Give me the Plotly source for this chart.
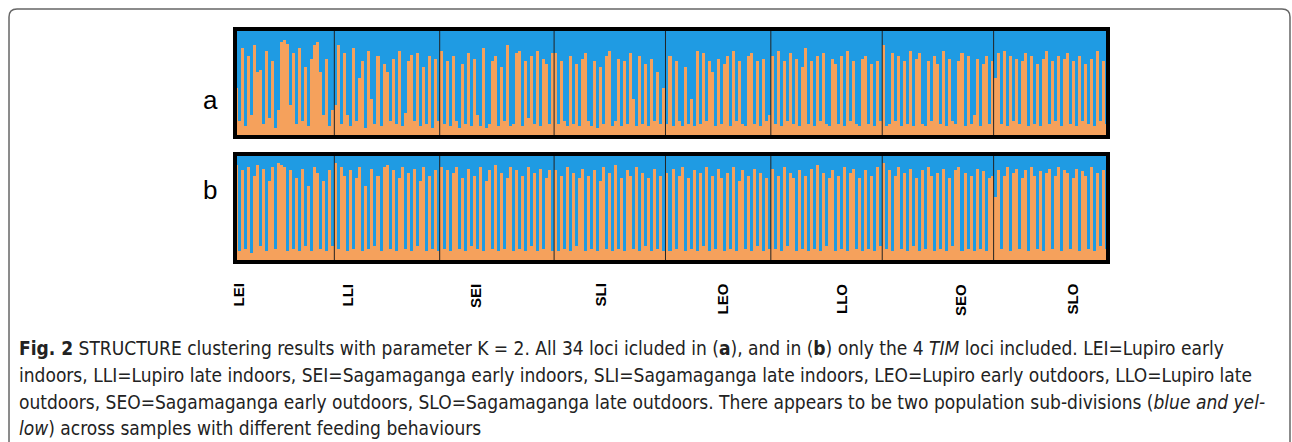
import plotly.graph_objects as go

W, H = 1292, 442

populations = ["LEI", "LLI", "SEI", "SLI", "LEO", "LLO", "SEO", "SLO"]

# Orange-cluster membership (q) per individual, panel a (all 34 loci)
a_LEI = [0.45,0.15,0.82,0.10,0.75,0.20,0.85,0.60,0.62,0.12,0.80,0.18,0.70,0.08,0.25,0.88,0.90,0.86,0.30,0.78,0.12,0.82,0.15,0.65,0.10,0.72,0.85,0.88,0.60,0.20,0.72,0.10,0.25]
a_LLI = [0.30,0.85,0.12,0.78,0.20,0.10,0.82,0.15,0.55,0.70,0.08,0.80,0.35,0.12,0.75,0.10,0.68,0.60,0.15,0.72,0.12,0.80,0.10,0.22,0.70,0.76,0.15,0.78,0.10,0.65,0.12,0.75,0.08,0.72,0.15]
a_SEI = [0.80,0.12,0.70,0.10,0.75,0.15,0.08,0.68,0.12,0.78,0.10,0.72,0.20,0.10,0.82,0.08,0.12,0.70,0.75,0.10,0.65,0.15,0.85,0.10,0.12,0.78,0.80,0.10,0.70,0.18,0.75,0.12,0.80,0.10,0.72,0.68,0.12,0.78]
a_SLI = [0.78,0.12,0.70,0.15,0.10,0.75,0.12,0.68,0.10,0.72,0.78,0.15,0.10,0.70,0.08,0.65,0.12,0.75,0.80,0.10,0.15,0.72,0.10,0.70,0.12,0.78,0.35,0.10,0.75,0.12,0.68,0.10,0.72,0.15,0.60,0.12,0.45]
a_LEO = [0.12,0.75,0.10,0.70,0.15,0.10,0.65,0.12,0.35,0.10,0.80,0.12,0.78,0.15,0.70,0.60,0.10,0.72,0.12,0.68,0.75,0.10,0.80,0.15,0.70,0.12,0.10,0.75,0.78,0.12,0.70,0.10,0.72,0.15,0.20]
a_LLO = [0.75,0.12,0.80,0.10,0.70,0.15,0.78,0.12,0.72,0.10,0.65,0.82,0.12,0.70,0.10,0.75,0.15,0.78,0.12,0.10,0.72,0.68,0.12,0.75,0.10,0.80,0.15,0.70,0.12,0.10,0.72,0.75,0.12,0.68,0.10,0.70,0.15]
a_SEO = [0.85,0.10,0.12,0.78,0.15,0.75,0.10,0.70,0.12,0.80,0.10,0.72,0.78,0.12,0.10,0.70,0.15,0.75,0.68,0.12,0.80,0.10,0.72,0.15,0.12,0.70,0.78,0.10,0.75,0.12,0.20,0.72,0.10,0.68,0.75,0.12,0.70]
a_SLO = [0.55,0.78,0.12,0.80,0.10,0.75,0.15,0.72,0.12,0.70,0.78,0.10,0.75,0.12,0.68,0.10,0.72,0.80,0.12,0.70,0.15,0.75,0.10,0.72,0.78,0.12,0.70,0.10,0.75,0.15,0.68,0.12,0.72,0.10,0.80,0.15,0.70,0.12]

# panel b (4 TIM loci)
b_LEI = [0.90,0.10,0.85,0.12,0.88,0.08,0.80,0.90,0.15,0.86,0.10,0.75,0.88,0.12,0.92,0.90,0.88,0.10,0.85,0.12,0.78,0.10,0.86,0.15,0.70,0.10,0.88,0.82,0.12,0.75,0.10,0.85,0.15]
b_LLI = [0.92,0.12,0.88,0.80,0.10,0.85,0.12,0.78,0.88,0.10,0.70,0.12,0.86,0.15,0.80,0.10,0.88,0.90,0.12,0.85,0.10,0.78,0.88,0.12,0.82,0.10,0.86,0.15,0.75,0.88,0.10,0.80,0.12,0.85,0.10]
b_SEI = [0.88,0.12,0.85,0.10,0.82,0.88,0.12,0.78,0.10,0.86,0.15,0.80,0.12,0.88,0.10,0.75,0.85,0.12,0.90,0.10,0.82,0.12,0.78,0.88,0.10,0.85,0.12,0.80,0.10,0.88,0.15,0.82,0.10,0.86,0.12,0.78,0.85,0.10]
b_SLI = [0.85,0.10,0.80,0.12,0.88,0.10,0.82,0.15,0.78,0.86,0.10,0.80,0.12,0.85,0.10,0.75,0.88,0.12,0.82,0.10,0.90,0.12,0.78,0.10,0.85,0.80,0.12,0.88,0.10,0.82,0.15,0.78,0.10,0.86,0.12,0.80,0.10]
b_LEO = [0.82,0.10,0.86,0.12,0.80,0.88,0.10,0.78,0.12,0.85,0.10,0.82,0.15,0.88,0.10,0.80,0.12,0.86,0.78,0.10,0.82,0.12,0.88,0.10,0.75,0.85,0.12,0.80,0.10,0.86,0.15,0.82,0.10,0.78,0.12]
b_LLO = [0.86,0.12,0.80,0.10,0.88,0.15,0.82,0.78,0.10,0.85,0.12,0.80,0.10,0.86,0.12,0.90,0.10,0.82,0.15,0.78,0.85,0.10,0.80,0.12,0.88,0.10,0.82,0.86,0.12,0.78,0.10,0.85,0.12,0.80,0.10,0.88,0.15]
b_SEO = [0.92,0.12,0.85,0.10,0.80,0.88,0.12,0.82,0.10,0.86,0.15,0.78,0.10,0.85,0.12,0.88,0.80,0.10,0.82,0.12,0.86,0.10,0.78,0.15,0.85,0.88,0.10,0.82,0.12,0.80,0.10,0.86,0.12,0.84,0.10,0.78,0.80]
b_SLO = [0.60,0.85,0.12,0.80,0.88,0.10,0.82,0.86,0.12,0.78,0.85,0.10,0.88,0.80,0.12,0.84,0.10,0.82,0.86,0.12,0.80,0.88,0.10,0.85,0.82,0.12,0.78,0.86,0.10,0.84,0.80,0.12,0.88,0.10,0.82,0.15,0.85,0.12]

panel_a = [a_LEI, a_LLI, a_SEI, a_SLI, a_LEO, a_LLO, a_SEO, a_SLO]
panel_b = [b_LEI, b_LLI, b_SEI, b_SLI, b_LEO, b_LLO, b_SEO, b_SLO]
panel_names = ["a", "b"]

ORANGE = "#F5A15C"
BLUE = "#1F9BE3"

def px(x):
    return x / W

def py(y):
    return 1 - y / H

fig = go.Figure()

x_dom = [px(235), px(1108)]
y_doms = [[py(137), py(29)], [py(262), py(154)]]

shapes = []
annotations = []

for i, panel in enumerate([panel_a, panel_b]):
    q = [v for pop in panel for v in pop]
    idx = list(range(len(q)))
    xa = "x" if i == 0 else "x2"
    ya = "y" if i == 0 else "y2"
    fig.add_trace(go.Bar(x=idx, y=q, marker=dict(color=ORANGE, line=dict(width=0)),
                         xaxis=xa, yaxis=ya, width=1.0, showlegend=False, hoverinfo="skip"))
    fig.add_trace(go.Bar(x=idx, y=[1 - v for v in q], marker=dict(color=BLUE, line=dict(width=0)),
                         xaxis=xa, yaxis=ya, width=1.0, showlegend=False, hoverinfo="skip"))
    n = len(q)
    axkey = "xaxis" if i == 0 else "xaxis2"
    aykey = "yaxis" if i == 0 else "yaxis2"
    fig.layout[axkey] = dict(domain=x_dom, range=[-0.5, n - 0.5], visible=False, fixedrange=True,
                             anchor=ya)
    fig.layout[aykey] = dict(domain=y_doms[i], range=[0, 1], visible=False, fixedrange=True,
                             anchor=xa)
    cum = 0
    for pop in panel[:-1]:
        cum += len(pop)
        shapes.append(dict(type="line", xref=xa, yref=ya, x0=cum - 0.5, x1=cum - 0.5, y0=0, y1=1,
                           line=dict(color="#222222", width=1)))
    shapes.append(dict(type="rect", xref=xa + " domain", yref=ya + " domain", x0=0, x1=1, y0=0, y1=1,
                       line=dict(color="black", width=4)))
    annotations.append(dict(text=panel_names[i], xref="paper", yref="paper",
                            x=px(201), y=py(83 if i == 0 else 190), showarrow=False,
                            font=dict(family="Liberation Sans, Arial", size=26, color="black")))

label_x = [238, 347, 475, 600, 722, 841, 960, 1072]
for lab, lx in zip(populations, label_x):
    annotations.append(dict(text="<b>" + lab + "</b>", xref="paper", yref="paper", x=px(lx), y=py(282),
                            xanchor="center", yanchor="top", textangle=-90, showarrow=False,
                            font=dict(family="Liberation Sans, Arial", size=15, color="black")))

caption_lines = [
    "<b>Fig. 2</b> STRUCTURE clustering results with parameter K = 2. All 34 loci icluded in (<b>a</b>), and in (<b>b</b>) only the 4 <i>TIM</i> loci included. LEI=Lupiro early",
    "indoors, LLI=Lupiro late indoors, SEI=Sagamaganga early indoors, SLI=Sagamaganga late indoors, LEO=Lupiro early outdoors, LLO=Lupiro late",
    "outdoors, SEO=Sagamaganga early outdoors, SLO=Sagamaganga late outdoors. There appears to be two population sub-divisions (<i>blue and yel-</i>",
    "<i>low</i>) across samples with different feeding behaviours",
]
caption_y = [348, 375, 402, 428]
for line, cy in zip(caption_lines, caption_y):
    annotations.append(dict(text=line, xref="paper", yref="paper", x=px(17), y=py(cy),
                            xanchor="left", yanchor="middle", showarrow=False, align="left",
                            font=dict(family="Liberation Sans Narrow, DejaVu Sans Condensed, Roboto", size=19, color="#222222")))

def P(x, y):
    return f"{px(x):.5f},{py(y):.5f}"

frame = (f"M {P(9, 442)} L {P(9, 17)} Q {P(9, 9)} {P(17, 9)} L {P(1282, 9)} "
         f"Q {P(1290, 9)} {P(1290, 17)} L {P(1290, 442)}")
shapes.append(dict(type="path", xref="paper", yref="paper", path=frame,
                   line=dict(color="#666666", width=1.5)))

fig.update_layout(width=W, height=H, margin=dict(l=0, r=0, t=0, b=0),
                  paper_bgcolor="white", plot_bgcolor="white",
                  barmode="stack", bargap=0, shapes=shapes, annotations=annotations)

fig.write_html("out.html", config={"displayModeBar": False},
               post_script="document.body.style.margin='0';document.body.style.overflow='hidden';")
